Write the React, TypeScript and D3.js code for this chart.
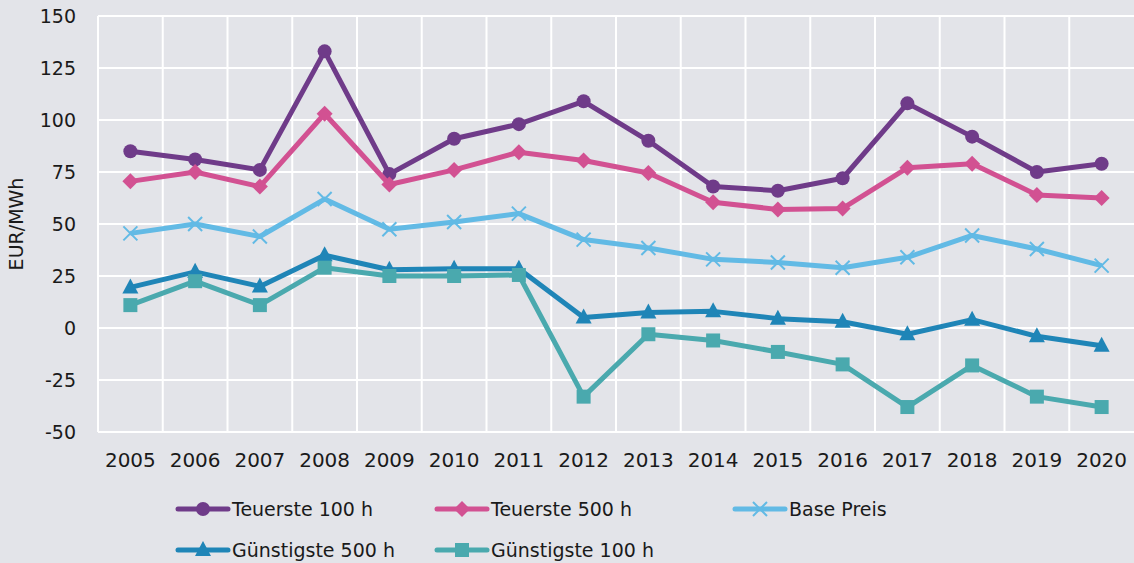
import { useEffect, useRef } from 'react';
import * as d3 from 'd3';

const years = ['2005', '2006', '2007', '2008', '2009', '2010', '2011', '2012', '2013', '2014', '2015', '2016', '2017', '2018', '2019', '2020'];

const teuerste100 = [85, 81, 76, 133, 74, 91, 98, 109, 90, 68, 66, 72, 108, 92, 75, 79];
const teuerste500 = [70.5, 75, 68, 103, 69, 76, 84.5, 80.5, 74.5, 60.5, 57, 57.5, 77, 79, 64, 62.5];
const basePreis = [45.5, 50, 44, 62, 47.5, 51, 55, 42.5, 38.5, 33, 31.5, 29, 34, 44.5, 38, 30];
const guenstigste500 = [19.5, 27, 20, 35, 28, 28.5, 28.5, 5, 7.5, 8, 4.5, 3, -3, 4, -4, -8.5];
const guenstigste100 = [11, 22.5, 11, 29, 25, 25, 25.5, -33, -3, -6, -11.5, -17.5, -38, -18, -33, -38];

const yTicks = [150, 125, 100, 75, 50, 25, 0, -25, -50];

type Marker = 'circle' | 'diamond' | 'cross' | 'triangle' | 'square';

const series: { name: string; values: number[]; color: string; marker: Marker }[] = [
  { name: 'Teuerste 100 h', values: teuerste100, color: '#6f3b89', marker: 'circle' },
  { name: 'Teuerste 500 h', values: teuerste500, color: '#d25192', marker: 'diamond' },
  { name: 'Base Preis', values: basePreis, color: '#62bae5', marker: 'cross' },
  { name: 'Günstigste 500 h', values: guenstigste500, color: '#1f85b7', marker: 'triangle' },
  { name: 'Günstigste 100 h', values: guenstigste100, color: '#4aa9ae', marker: 'square' },
];

const legendOrder = [
  { idx: 0, x: 178, y: 509 },
  { idx: 1, x: 437, y: 509 },
  { idx: 2, x: 735, y: 509 },
  { idx: 3, x: 178, y: 550 },
  { idx: 4, x: 437, y: 550 },
];

const W = 1134;
const H = 563;
const FONT = '"DejaVu Sans", sans-serif';

function drawMarker(g: d3.Selection<SVGGElement, unknown, null, undefined>, type: Marker, x: number, y: number, color: string) {
  if (type === 'circle') {
    g.append('circle').attr('cx', x).attr('cy', y).attr('r', 7).attr('fill', color);
  } else if (type === 'diamond') {
    const s = 8;
    g.append('path')
      .attr('d', `M${x},${y - s}L${x + s},${y}L${x},${y + s}L${x - s},${y}Z`)
      .attr('fill', color);
  } else if (type === 'square') {
    g.append('rect').attr('x', x - 7).attr('y', y - 7).attr('width', 14).attr('height', 14).attr('fill', color);
  } else if (type === 'triangle') {
    g.append('path')
      .attr('d', `M${x},${y - 9}L${x + 8},${y + 6}L${x - 8},${y + 6}Z`)
      .attr('fill', color);
  } else {
    const s = 7;
    g.append('path')
      .attr('d', `M${x - s},${y - s}L${x + s},${y + s}M${x - s},${y + s}L${x + s},${y - s}`)
      .attr('stroke', color)
      .attr('stroke-width', 2)
      .attr('fill', 'none');
  }
}

export default function App() {
  const svgRef = useRef<SVGSVGElement>(null);

  useEffect(() => {
    if (!svgRef.current) return;
    const svg = d3.select(svgRef.current);
    svg.selectAll('*').remove();

    const left = 98;
    const right = 1134;
    const top = 16;
    const bottom = 432;

    const x = d3.scaleBand<string>().domain(years).range([left, right]);
    const y = d3.scaleLinear().domain([-50, 150]).range([bottom, top]);

    svg.append('rect').attr('width', W).attr('height', H).attr('fill', '#e3e4e9');

    // grid
    const grid = svg.append('g');
    yTicks.forEach(t => {
      grid.append('line')
        .attr('x1', left).attr('x2', right)
        .attr('y1', y(t)).attr('y2', y(t))
        .attr('stroke', '#fff').attr('stroke-width', 2);
    });
    years.forEach(yr => {
      const xx = x(yr)!;
      grid.append('line')
        .attr('x1', xx).attr('x2', xx)
        .attr('y1', top).attr('y2', bottom)
        .attr('stroke', '#fff').attr('stroke-width', 2);
    });

    // axis labels
    svg.append('g').selectAll('text').data(yTicks).enter().append('text')
      .attr('x', 76)
      .attr('y', d => y(d))
      .attr('dy', '0.36em')
      .attr('text-anchor', 'end')
      .style('font-family', FONT)
      .style('font-size', '19px')
      .style('fill', '#1a1a1a')
      .text(d => d);

    svg.append('g').selectAll('text').data(years).enter().append('text')
      .attr('x', d => x(d)! + x.bandwidth() / 2)
      .attr('y', 467)
      .attr('text-anchor', 'middle')
      .style('font-family', FONT)
      .style('font-size', '20px')
      .style('fill', '#1a1a1a')
      .text(d => d);

    svg.append('text')
      .attr('transform', `translate(23,${(top + bottom) / 2}) rotate(-90)`)
      .attr('text-anchor', 'middle')
      .style('font-family', FONT)
      .style('font-size', '19px')
      .style('fill', '#1a1a1a')
      .text('EUR/MWh');

    // lines
    const line = d3.line<number>()
      .x((_, i) => x(years[i])! + x.bandwidth() / 2)
      .y(d => y(d));

    series.forEach(s => {
      const g = svg.append('g');
      g.append('path')
        .attr('d', line(s.values))
        .attr('fill', 'none')
        .attr('stroke', s.color)
        .attr('stroke-width', 5)
        .attr('stroke-linejoin', 'round');
      s.values.forEach((v, i) => drawMarker(g, s.marker, x(years[i])! + x.bandwidth() / 2, y(v), s.color));
    });

    // legend
    legendOrder.forEach(l => {
      const s = series[l.idx];
      const g = svg.append('g');
      g.append('line')
        .attr('x1', l.x).attr('x2', l.x + 50)
        .attr('y1', l.y).attr('y2', l.y)
        .attr('stroke', s.color).attr('stroke-width', 5).attr('stroke-linecap', 'round');
      drawMarker(g, s.marker, l.x + 25, l.y, s.color);
      g.append('text')
        .attr('x', l.x + 54)
        .attr('y', l.y)
        .attr('dy', '0.35em')
        .style('font-family', FONT)
        .style('font-size', '19px')
        .style('fill', '#1a1a1a')
        .text(s.name);
    });
  }, []);

  return (
    <div style={{ position: 'fixed', left: 0, top: 0, width: W, height: H }}>
      <svg ref={svgRef} width={W} height={H} style={{ display: 'block' }} />
    </div>
  );
}
